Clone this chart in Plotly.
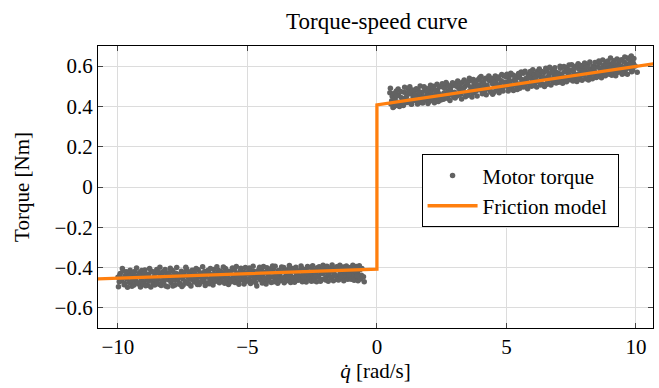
import plotly.graph_objects as go

# ---- data ----
neg_speed = [
    -10.00,-9.95,-9.91,-9.86,-9.80,-9.76,-9.71,-9.66,-9.60,-9.55,
    -9.50,-9.46,-9.41,-9.35,-9.31,-9.25,-9.20,-9.16,-9.10,-9.05,
    -9.00,-8.96,-8.90,-8.85,-8.81,-8.75,-8.70,-8.65,-8.60,-8.55,
    -8.50,-8.45,-8.41,-8.35,-8.30,-8.26,-8.20,-8.15,-8.10,-8.05,
    -8.00,-7.95,-7.90,-7.86,-7.80,-7.75,-7.70,-7.65,-7.61,-7.55,
    -7.50,-7.46,-7.40,-7.35,-7.30,-7.25,-7.21,-7.15,-7.10,-7.05,
    -7.00,-6.95,-6.90,-6.86,-6.80,-6.75,-6.70,-6.65,-6.60,-6.56,
    -6.50,-6.45,-6.40,-6.36,-6.30,-6.25,-6.20,-6.15,-6.11,-6.05,
    -6.00,-5.95,-5.91,-5.85,-5.80,-5.75,-5.70,-5.66,-5.60,-5.55,
    -5.50,-5.45,-5.41,-5.35,-5.30,-5.25,-5.20,-5.16,-5.10,-5.05,
    -5.00,-4.95,-4.91,-4.85,-4.80,-4.75,-4.70,-4.64,-4.60,-4.55,
    -4.50,-4.45,-4.41,-4.35,-4.30,-4.25,-4.20,-4.16,-4.10,-4.05,
    -4.00,-3.95,-3.91,-3.85,-3.80,-3.75,-3.70,-3.66,-3.60,-3.55,
    -3.50,-3.45,-3.41,-3.35,-3.30,-3.25,-3.20,-3.16,-3.10,-3.05,
    -3.00,-2.95,-2.91,-2.85,-2.80,-2.75,-2.70,-2.66,-2.60,-2.55,
    -2.50,-2.45,-2.41,-2.35,-2.30,-2.25,-2.20,-2.16,-2.10,-2.05,
    -2.00,-1.95,-1.91,-1.85,-1.80,-1.75,-1.70,-1.66,-1.60,-1.55,
    -1.50,-1.45,-1.41,-1.35,-1.30,-1.25,-1.20,-1.16,-1.10,-1.05,
    -1.00,-0.95,-0.91,-0.85,-0.80,-0.75,-0.70,-0.65,-0.60,-0.52,
    -9.98,-9.93,-9.88,-9.83,-9.78,-9.73,-9.68,-9.63,-9.58,-9.53,
    -9.48,-9.43,-9.38,-9.33,-9.28,-9.23,-9.18,-9.13,-9.08,-9.03,
    -8.98,-8.93,-8.88,-8.83,-8.78,-8.73,-8.68,-8.63,-8.58,-8.53,
    -8.48,-8.43,-8.38,-8.33,-8.28,-8.23,-8.18,-8.13,-8.08,-8.03,
    -7.98,-7.93,-7.88,-7.83,-7.78,-7.73,-7.68,-7.63,-7.58,-7.53,
    -7.48,-7.43,-7.38,-7.33,-7.28,-7.23,-7.18,-7.13,-7.08,-7.03,
    -6.98,-6.93,-6.88,-6.83,-6.78,-6.73,-6.68,-6.63,-6.58,-6.53,
    -6.48,-6.43,-6.38,-6.33,-6.28,-6.23,-6.18,-6.13,-6.08,-6.03,
    -5.98,-5.93,-5.88,-5.83,-5.78,-5.73,-5.68,-5.63,-5.58,-5.53,
    -5.48,-5.43,-5.38,-5.33,-5.28,-5.23,-5.18,-5.13,-5.08,-5.03,
    -4.98,-4.93,-4.88,-4.83,-4.78,-4.73,-4.68,-4.63,-4.58,-4.53,
    -4.48,-4.43,-4.38,-4.33,-4.28,-4.23,-4.18,-4.13,-4.08,-4.03,
    -3.98,-3.93,-3.88,-3.83,-3.78,-3.73,-3.68,-3.63,-3.58,-3.53,
    -3.48,-3.43,-3.38,-3.33,-3.28,-3.23,-3.18,-3.13,-3.08,-3.03,
    -2.98,-2.93,-2.88,-2.83,-2.78,-2.73,-2.68,-2.63,-2.58,-2.53,
    -2.48,-2.43,-2.38,-2.33,-2.28,-2.23,-2.18,-2.13,-2.08,-2.03,
    -1.98,-1.93,-1.88,-1.83,-1.78,-1.73,-1.68,-1.63,-1.58,-1.53,
    -1.48,-1.43,-1.38,-1.33,-1.28,-1.23,-1.18,-1.13,-1.08,-1.03,
    -0.98,-0.93,-0.88,-0.83,-0.78,-0.73,-0.68,-0.63,-0.58,-0.49,
]
neg_torque = [
    -0.448,-0.471,-0.430,-0.462,-0.417,-0.485,-0.441,-0.456,-0.427,-0.474,
    -0.437,-0.493,-0.455,-0.419,-0.466,-0.443,-0.481,-0.425,-0.459,-0.435,
    -0.470,-0.412,-0.451,-0.488,-0.432,-0.462,-0.418,-0.476,-0.445,-0.428,
    -0.409,-0.457,-0.483,-0.438,-0.466,-0.421,-0.449,-0.492,-0.431,-0.460,
    -0.440,-0.474,-0.415,-0.452,-0.487,-0.429,-0.461,-0.436,-0.478,-0.418,
    -0.455,-0.424,-0.469,-0.407,-0.446,-0.481,-0.433,-0.458,-0.416,-0.472,
    -0.438,-0.462,-0.411,-0.484,-0.427,-0.450,-0.470,-0.419,-0.445,-0.476,
    -0.421,-0.458,-0.436,-0.473,-0.410,-0.449,-0.431,-0.466,-0.414,-0.452,
    -0.467,-0.426,-0.444,-0.405,-0.472,-0.433,-0.455,-0.418,-0.461,-0.439,
    -0.412,-0.451,-0.429,-0.470,-0.438,-0.403,-0.459,-0.422,-0.447,-0.468,
    -0.430,-0.456,-0.409,-0.441,-0.465,-0.420,-0.448,-0.491,-0.416,-0.437,
    -0.460,-0.413,-0.442,-0.425,-0.463,-0.401,-0.436,-0.452,-0.418,-0.445,
    -0.407,-0.449,-0.428,-0.462,-0.415,-0.440,-0.455,-0.421,-0.400,-0.447,
    -0.432,-0.411,-0.458,-0.426,-0.444,-0.404,-0.451,-0.419,-0.437,-0.463,
    -0.416,-0.443,-0.402,-0.431,-0.455,-0.409,-0.438,-0.421,-0.448,-0.398,
    -0.436,-0.412,-0.453,-0.425,-0.401,-0.444,-0.419,-0.459,-0.430,-0.407,
    -0.422,-0.446,-0.399,-0.433,-0.414,-0.451,-0.405,-0.428,-0.441,-0.396,
    -0.411,-0.438,-0.420,-0.452,-0.397,-0.430,-0.447,-0.408,-0.425,-0.455,
    -0.403,-0.434,-0.415,-0.449,-0.395,-0.427,-0.456,-0.410,-0.438,-0.446,
    -0.495,-0.438,-0.465,-0.404,-0.452,-0.479,-0.421,-0.498,-0.446,-0.413,
    -0.468,-0.427,-0.486,-0.445,-0.402,-0.475,-0.433,-0.497,-0.414,-0.482,
    -0.426,-0.490,-0.440,-0.465,-0.405,-0.497,-0.454,-0.423,-0.487,-0.461,
    -0.478,-0.423,-0.399,-0.489,-0.442,-0.472,-0.410,-0.455,-0.495,-0.426,
    -0.403,-0.458,-0.491,-0.426,-0.463,-0.400,-0.448,-0.483,-0.432,-0.494,
    -0.487,-0.440,-0.399,-0.476,-0.421,-0.457,-0.492,-0.413,-0.449,-0.430,
    -0.405,-0.484,-0.446,-0.428,-0.470,-0.396,-0.458,-0.489,-0.431,-0.414,
    -0.480,-0.404,-0.452,-0.486,-0.433,-0.468,-0.396,-0.443,-0.475,-0.419,
    -0.441,-0.397,-0.478,-0.456,-0.417,-0.484,-0.430,-0.470,-0.402,-0.452,
    -0.474,-0.395,-0.447,-0.483,-0.416,-0.460,-0.434,-0.481,-0.400,-0.426,
    -0.466,-0.402,-0.479,-0.418,-0.394,-0.457,-0.475,-0.427,-0.452,-0.398,
    -0.428,-0.477,-0.395,-0.453,-0.481,-0.421,-0.466,-0.407,-0.474,-0.392,
    -0.470,-0.393,-0.440,-0.478,-0.425,-0.466,-0.397,-0.452,-0.475,-0.418,
    -0.465,-0.444,-0.390,-0.474,-0.415,-0.455,-0.473,-0.398,-0.448,-0.420,
    -0.461,-0.392,-0.470,-0.449,-0.410,-0.472,-0.395,-0.457,-0.425,-0.468,
    -0.391,-0.465,-0.428,-0.470,-0.447,-0.396,-0.468,-0.413,-0.389,-0.456,
    -0.462,-0.393,-0.468,-0.410,-0.450,-0.387,-0.466,-0.437,-0.404,-0.459,
    -0.462,-0.388,-0.444,-0.405,-0.466,-0.414,-0.392,-0.458,-0.437,-0.400,
    -0.458,-0.388,-0.463,-0.420,-0.444,-0.465,-0.391,-0.457,-0.405,-0.470,
]
pos_speed = [
    0.50,0.54,0.59,0.65,0.70,0.75,0.80,0.84,0.90,0.95,
    1.00,1.05,1.09,1.15,1.20,1.25,1.30,1.34,1.40,1.45,
    1.50,1.55,1.59,1.65,1.70,1.75,1.80,1.84,1.90,1.95,
    2.00,2.05,2.09,2.15,2.20,2.25,2.30,2.34,2.40,2.45,
    2.50,2.55,2.59,2.65,2.70,2.75,2.80,2.84,2.90,2.95,
    3.00,3.05,3.09,3.15,3.20,3.25,3.30,3.34,3.40,3.45,
    3.50,3.55,3.59,3.65,3.70,3.75,3.80,3.84,3.90,3.95,
    4.00,4.05,4.09,4.15,4.20,4.25,4.30,4.34,4.40,4.45,
    4.50,4.55,4.59,4.65,4.70,4.75,4.80,4.84,4.90,4.95,
    5.00,5.05,5.09,5.15,5.20,5.25,5.30,5.34,5.40,5.45,
    5.50,5.55,5.59,5.65,5.70,5.75,5.80,5.84,5.90,5.95,
    6.00,6.05,6.09,6.15,6.20,6.25,6.30,6.34,6.40,6.45,
    6.50,6.55,6.59,6.65,6.70,6.75,6.80,6.84,6.90,6.95,
    7.00,7.05,7.09,7.15,7.20,7.25,7.30,7.34,7.40,7.45,
    7.50,7.55,7.59,7.65,7.70,7.75,7.80,7.84,7.90,7.95,
    8.00,8.05,8.09,8.15,8.20,8.25,8.30,8.34,8.40,8.45,
    8.50,8.55,8.59,8.65,8.70,8.75,8.80,8.84,8.90,8.95,
    9.00,9.05,9.09,9.15,9.20,9.25,9.30,9.34,9.40,9.45,
    9.50,9.55,9.59,9.65,9.70,9.75,9.80,9.84,9.90,9.97,
    0.52,0.57,0.62,0.67,0.72,0.77,0.82,0.87,0.92,0.97,
    1.02,1.07,1.12,1.17,1.22,1.27,1.32,1.37,1.42,1.47,
    1.52,1.57,1.62,1.67,1.72,1.77,1.82,1.87,1.92,1.97,
    2.02,2.07,2.12,2.17,2.22,2.27,2.32,2.37,2.42,2.47,
    2.52,2.57,2.62,2.67,2.72,2.77,2.82,2.87,2.92,2.97,
    3.02,3.07,3.12,3.17,3.22,3.27,3.32,3.37,3.42,3.47,
    3.52,3.57,3.62,3.67,3.72,3.77,3.82,3.87,3.92,3.97,
    4.02,4.07,4.12,4.17,4.22,4.27,4.32,4.37,4.42,4.47,
    4.52,4.57,4.62,4.67,4.72,4.77,4.82,4.87,4.92,4.97,
    5.02,5.07,5.12,5.17,5.22,5.27,5.32,5.37,5.42,5.47,
    5.52,5.57,5.62,5.67,5.72,5.77,5.82,5.87,5.92,5.97,
    6.02,6.07,6.12,6.17,6.22,6.27,6.32,6.37,6.42,6.47,
    6.52,6.57,6.62,6.67,6.72,6.77,6.82,6.87,6.92,6.97,
    7.02,7.07,7.12,7.17,7.22,7.27,7.32,7.37,7.42,7.47,
    7.52,7.57,7.62,7.67,7.72,7.77,7.82,7.87,7.92,7.97,
    8.02,8.07,8.12,8.17,8.22,8.27,8.32,8.37,8.42,8.47,
    8.52,8.57,8.62,8.67,8.72,8.77,8.82,8.87,8.92,8.97,
    9.02,9.07,9.12,9.17,9.22,9.27,9.32,9.37,9.42,9.47,
    9.52,9.57,9.62,9.67,9.72,9.77,9.82,9.87,9.92,10.05,
]
pos_torque = [
    0.468,0.412,0.451,0.398,0.437,0.476,0.421,0.455,0.405,0.443,
    0.430,0.471,0.418,0.452,0.489,0.427,0.463,0.411,0.446,0.478,
    0.440,0.425,0.482,0.456,0.419,0.470,0.448,0.492,0.431,0.462,
    0.489,0.442,0.471,0.430,0.500,0.458,0.437,0.481,0.463,0.447,
    0.452,0.496,0.467,0.443,0.511,0.478,0.455,0.489,0.462,0.505,
    0.470,0.515,0.452,0.493,0.481,0.462,0.520,0.476,0.499,0.465,
    0.509,0.473,0.527,0.488,0.466,0.514,0.496,0.478,0.533,0.491,
    0.482,0.521,0.497,0.474,0.540,0.505,0.487,0.529,0.470,0.514,
    0.533,0.495,0.518,0.480,0.546,0.509,0.527,0.490,0.552,0.503,
    0.521,0.498,0.543,0.512,0.489,0.556,0.530,0.505,0.541,0.496,
    0.550,0.513,0.534,0.565,0.502,0.539,0.520,0.558,0.508,0.546,
    0.528,0.560,0.515,0.547,0.575,0.522,0.553,0.536,0.511,0.569,
    0.541,0.577,0.523,0.562,0.535,0.583,0.519,0.556,0.571,0.530,
    0.566,0.537,0.589,0.551,0.528,0.574,0.545,0.593,0.560,0.533,
    0.580,0.548,0.571,0.539,0.601,0.559,0.585,0.544,0.567,0.597,
    0.555,0.589,0.570,0.608,0.547,0.583,0.562,0.600,0.575,0.551,
    0.596,0.565,0.614,0.580,0.557,0.603,0.588,0.621,0.570,0.592,
    0.610,0.573,0.598,0.627,0.566,0.605,0.584,0.618,0.576,0.632,
    0.594,0.621,0.580,0.611,0.640,0.589,0.625,0.572,0.614,0.601,
    0.490,0.428,0.395,0.465,0.405,0.452,0.487,0.400,0.474,0.421,
    0.405,0.495,0.441,0.420,0.470,0.498,0.412,0.482,0.430,0.458,
    0.488,0.412,0.468,0.502,0.435,0.417,0.498,0.445,0.475,0.414,
    0.425,0.505,0.452,0.488,0.418,0.478,0.510,0.425,0.498,0.432,
    0.512,0.436,0.490,0.519,0.440,0.503,0.429,0.470,0.517,0.446,
    0.442,0.500,0.526,0.458,0.512,0.437,0.492,0.531,0.448,0.520,
    0.455,0.540,0.497,0.447,0.534,0.473,0.518,0.452,0.505,0.542,
    0.548,0.463,0.515,0.535,0.458,0.493,0.551,0.480,0.540,0.461,
    0.470,0.551,0.505,0.538,0.468,0.490,0.559,0.476,0.520,0.548,
    0.560,0.477,0.528,0.565,0.503,0.479,0.551,0.520,0.484,0.563,
    0.490,0.571,0.520,0.497,0.575,0.527,0.488,0.543,0.574,0.500,
    0.582,0.504,0.540,0.497,0.563,0.586,0.506,0.574,0.543,0.499,
    0.590,0.510,0.549,0.595,0.507,0.567,0.540,0.592,0.516,0.558,
    0.520,0.600,0.561,0.515,0.598,0.540,0.523,0.580,0.606,0.548,
    0.607,0.526,0.589,0.555,0.524,0.612,0.535,0.603,0.530,0.577,
    0.615,0.538,0.596,0.531,0.620,0.566,0.537,0.591,0.618,0.543,
    0.548,0.626,0.590,0.542,0.631,0.572,0.552,0.610,0.625,0.560,
    0.640,0.555,0.616,0.590,0.552,0.636,0.570,0.628,0.601,0.560,
    0.565,0.645,0.598,0.560,0.636,0.608,0.650,0.580,0.638,0.570,
]
model_speed = [-11.0, 0.0, 0.0, 11.0]
model_torque = [-0.457, -0.408, 0.408, 0.618]

x_ticks = [-10, -5, 0, 5, 10]
y_ticks = [-0.6, -0.4, -0.2, 0, 0.2, 0.4, 0.6]

FONT = "Liberation Serif, Times New Roman, serif"

fig = go.Figure()
fig.add_trace(go.Scatter(
    x=neg_speed + pos_speed, y=neg_torque + pos_torque,
    mode="markers", name="Motor torque",
    marker=dict(color="rgb(98,98,98)", size=5.5, line=dict(width=0)),
))
fig.add_trace(go.Scatter(
    x=model_speed, y=model_torque, mode="lines", name="Friction model\u00a0",
    line=dict(color="#ff7f0e", width=3.3),
))

axis_common = dict(
    showline=True, linecolor="black", linewidth=1.3, mirror="ticks",
    ticks="inside", ticklen=5, tickcolor="#444", tickwidth=1,
    showgrid=True, gridcolor="#dcdcdc", gridwidth=1,
    zeroline=False,
    tickfont=dict(family=FONT, size=21, color="black"),
)

fig.update_layout(
    width=659, height=388,
    margin=dict(l=98, r=6, t=46, b=60),
    paper_bgcolor="white", plot_bgcolor="white",
    font=dict(family=FONT, size=21, color="black"),
    title=dict(text="Torque-speed curve", x=0.572, xanchor="center",
               y=0.945, yanchor="middle", yref="container",
               font=dict(family=FONT, size=23, color="black")),
    xaxis=dict(range=[-10.77, 10.66], tickvals=x_ticks,
               title=dict(text="<i>q̇</i> [rad/s]", standoff=4,
                          font=dict(family=FONT, size=21)),
               **axis_common),
    yaxis=dict(range=[-0.7, 0.7], tickvals=y_ticks,
               title=dict(text="Torque [Nm]", standoff=19,
                          font=dict(family=FONT, size=21)),
               **axis_common),
    legend=dict(x=0.583, y=0.616, xanchor="left", yanchor="top",
                bgcolor="white", bordercolor="black", borderwidth=1,
                font=dict(family=FONT, size=21), itemwidth=50,
                tracegroupgap=0),
    showlegend=True,
)

fig.write_html("out.html")
